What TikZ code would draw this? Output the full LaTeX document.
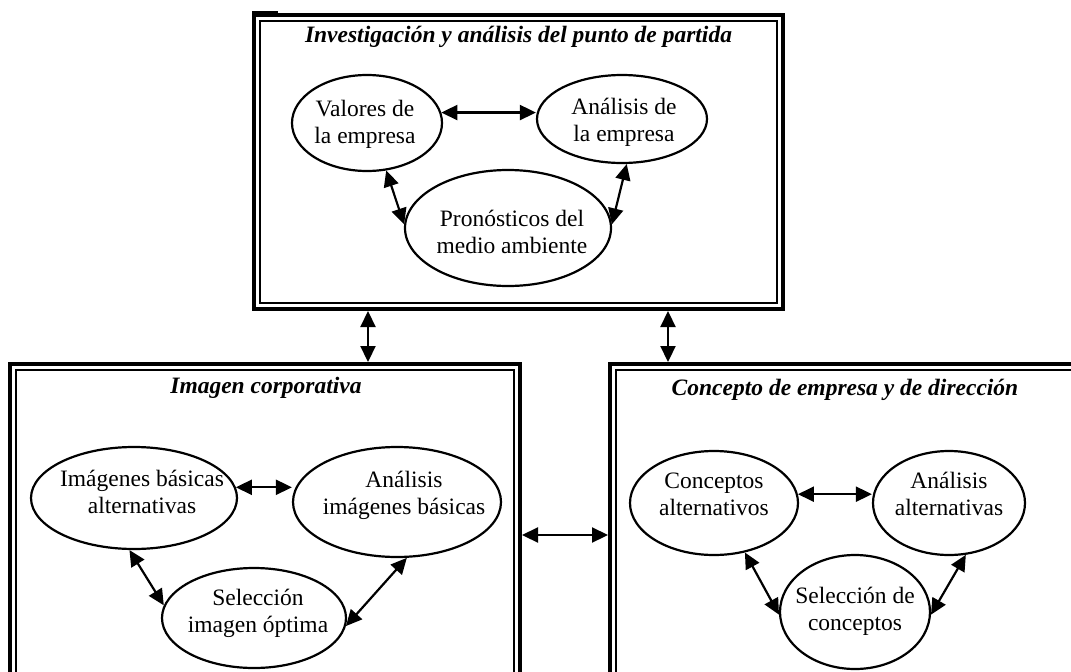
\documentclass[tikz,border=0pt]{standalone}
\usepackage{fontspec}
\setmainfont{Liberation Serif}
\usetikzlibrary{shapes.geometric,arrows.meta}
% two centred lines in a box of no size, so the ellipse keeps its own size;
% #1 moves the text sideways by half its value, #2 raises it
\newcommand\twolines[4]{\makebox[0pt]{\hspace*{#1}\raisebox{\dimexpr#2-0.25em\relax}[0pt][0pt]{\begin{tabular}{@{}c@{}}#3\\#4\end{tabular}}}}
\begin{document}
\begin{tikzpicture}[x=1pt,y=-1pt,
  frame/.style={draw, rectangle, line width=4pt, inner sep=0pt, outer sep=2pt},
  bubble/.style={draw, ellipse, line width=2.2pt, inner sep=0pt,
    font=\fontsize{23.5}{27.5}\selectfont},
  heading/.style={anchor=base, inner sep=0pt, font=\fontsize{23.5}{28}\selectfont\bfseries\itshape},
  link/.style={line width=2.2pt,
    {Triangle[length=16pt,width=15pt]}-{Triangle[length=16pt,width=15pt]}},
]
\useasboundingbox (0,0) rectangle (1071,672);
\clip (0,0) rectangle (1071,672);

% double-ruled frames: heavy outer rule, thin inner rule
\node[frame, minimum width=529pt, minimum height=294pt] (topbox) at (518.5,162) {};
\node[frame, minimum width=510pt, minimum height=342pt] (leftbox) at (265,535) {};
\node[frame, minimum width=490pt, minimum height=342pt] (rightbox) at (855,535) {};
\foreach \b in {topbox,leftbox,rightbox}
  \draw[line width=2pt] ([shift={(8,8)}]\b.north west) rectangle ([shift={(-8,-8)}]\b.south east);
\fill (252,11) rectangle (278,14);

% headings
\node[heading] (toptitle) at (518.5,42) {Investigación y análisis del punto de partida};
\node[heading] (lefttitle) at (266,393) {Imagen corporativa};
\node[heading] (righttitle) at (845,395) {Concepto de empresa y de dirección};

% starting point
\node[bubble, minimum width=150pt, minimum height=96pt] (valores) at (367,123) {\twolines{-4pt}{-2pt}{Valores de}{la empresa}};
\node[bubble, minimum width=170pt, minimum height=88pt] (analisis) at (622,119) {\twolines{4pt}{-4pt}{Análisis de}{la empresa}};
\node[bubble, minimum width=206pt, minimum height=116pt] (pronos) at (508,228) {\twolines{8pt}{-7pt}{Pronósticos del}{medio ambiente}};

% corporate image
\node[bubble, minimum width=206pt, minimum height=102pt] (imgalt) at (134,498) {\twolines{16pt}{3pt}{Imágenes básicas}{alternativas}};
\node[bubble, minimum width=208pt, minimum height=110pt] (imganal) at (397,502) {\twolines{14pt}{6pt}{Análisis}{imágenes básicas}};
\node[bubble, minimum width=184pt, minimum height=100pt] (imgsel) at (254,618) {\twolines{8pt}{4pt}{Selección}{imagen óptima}};

% company concept
\node[bubble, minimum width=168pt, minimum height=104pt] (conalt) at (714,503) {\twolines{0pt}{6pt}{Conceptos}{alternativos}};
\node[bubble, minimum width=152pt, minimum height=104pt] (conanal) at (949,503) {\twolines{0pt}{6pt}{Análisis}{alternativas}};
\node[bubble, minimum width=150pt, minimum height=114pt] (consel) at (855,612) {\twolines{0pt}{0pt}{Selección de}{conceptos}};

% links inside the frames
\draw[link] (valores.8) -- (valores.8 -| analisis.west);
\draw[link] (valores.292) -- (pronos.178);
\draw[link] (analisis.276) -- (pronos.2);
\draw[link] (imgalt.6) -- (imgalt.6 -| imganal.west);
\draw[link] (imgalt.265) -- (imgsel.172);
\draw[link] (imganal.280) -- (imgsel.355);
\draw[link] (conalt.6) -- (conalt.6 -| conanal.west);
\draw[link] (conalt.302) -- (consel.182);
\draw[link] (conanal.288) -- (consel.358);

% links between the frames
\coordinate (lx) at (368,0);
\coordinate (rx) at (668,0);
\draw[link] (topbox.south -| lx) -- (leftbox.north -| lx);
\draw[link] (topbox.south -| rx) -- (rightbox.north -| rx);
\draw[link] (leftbox.east) -- (rightbox.west);
\end{tikzpicture}
\end{document}
